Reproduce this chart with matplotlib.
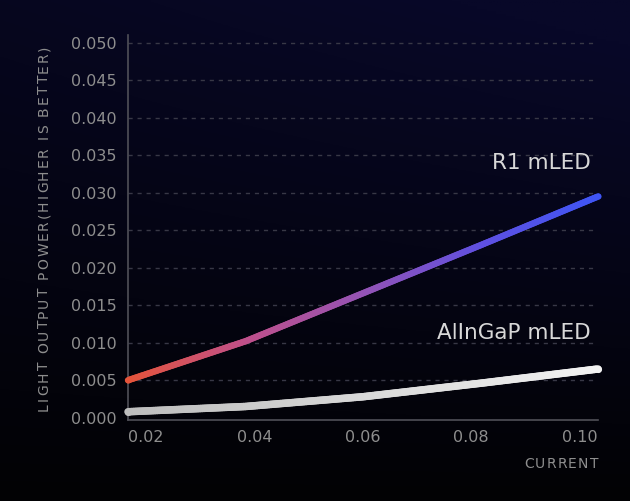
import numpy as np
import matplotlib
matplotlib.use("Agg")
import matplotlib.pyplot as plt
from matplotlib.collections import LineCollection
from matplotlib.colors import LinearSegmentedColormap
from matplotlib.font_manager import FontProperties, findfont
from matplotlib.ft2font import FT2Font, LoadFlags
import matplotlib.transforms as mtransforms

plt.rcParams['font.family'] = ['DejaVu Sans']

# ---- data ----
current = [0.02, 0.04, 0.06, 0.08, 0.10]
r1_mled = [0.0050, 0.0102, 0.0166, 0.0230, 0.0295]
alingap_mled = [0.0008, 0.0015, 0.0028, 0.0046, 0.0065]
x_ticks = [0.02, 0.04, 0.06, 0.08, 0.10]
x_tick_labels = ["0.02", "0.04", "0.06", "0.08", "0.10"]
y_ticks = [0.000, 0.005, 0.010, 0.015, 0.020, 0.025, 0.030, 0.035, 0.040, 0.045, 0.050]
series_names = ["R1 mLED", "AlInGaP mLED"]
x_title = "CURRENT"
y_title = "LIGHT OUTPUT POWER(HIGHER IS BETTER)"

W, H = 630, 501
fig = plt.figure(figsize=(W / 100, H / 100), dpi=100)

# background gradient
bg = fig.add_axes([0, 0, 1, 1])
bg.set_axis_off()
yy, xx = np.mgrid[0:1:200j, 0:1:200j]
t = np.clip(0.75 * (1 - yy) + 0.35 * xx * (1 - yy), 0, 1)  # yy=0 top
top = np.array([8, 8, 40]) / 255
bot = np.array([2, 2, 4]) / 255
img = bot[None, None, :] * (1 - t[..., None]) + top[None, None, :] * t[..., None]
bg.imshow(img, extent=[0, 1, 0, 1], aspect='auto', origin='upper')
bg.set_xlim(0, 1)
bg.set_ylim(0, 1)

ax = fig.add_axes([128 / W, 1 - 420 / H, (598 - 128) / W, (420 - 35) / H])
ax.set_facecolor('none')
ax.set_xlim(0.02, 0.10)
ax.set_ylim(-0.0003, 0.05103)

# grid
for yv in y_ticks[1:]:
    ax.plot([0.02, 0.0992], [yv, yv], color='#383846', lw=1.0, ls=(0, (3, 3.5)), zorder=1)


def gradient_line(xs, ys, cmap, lw, z):
    xs = np.asarray(xs, float)
    ys = np.asarray(ys, float)
    px, py = [], []
    n = 60
    for i in range(len(xs) - 1):
        s = np.linspace(0, 1, n, endpoint=False)
        px.extend(xs[i] + (xs[i + 1] - xs[i]) * s)
        py.extend(ys[i] + (ys[i + 1] - ys[i]) * s)
    px.append(xs[-1]); py.append(ys[-1])
    px = np.array(px); py = np.array(py)
    pts = np.column_stack([px, py]).reshape(-1, 1, 2)
    segs = np.concatenate([pts[:-1], pts[1:]], axis=1)
    vals = (px[:-1] - xs[0]) / (xs[-1] - xs[0])
    lc = LineCollection(segs, cmap=cmap, linewidths=lw, capstyle='round', zorder=z, clip_on=False)
    lc.set_array(vals)
    lc.set_clim(0, 1)
    ax.add_collection(lc)
    ax.plot([px[0]], [py[0]], 'o', ms=lw * 0.95, color=cmap(0.0), zorder=z, mec='none', clip_on=False)
    ax.plot([px[-1]], [py[-1]], 'o', ms=lw * 0.95, color=cmap(1.0), zorder=z, mec='none', clip_on=False)


cmap_r1 = LinearSegmentedColormap.from_list('r1', ['#e5543a', '#c0508a', '#9553b5', '#6050e0', '#3f55f5'])
cmap_al = LinearSegmentedColormap.from_list('al', ['#bdbdbd', '#d8d8d8', '#f2f2f2'])
gradient_line(current, r1_mled, cmap_r1, 4.6, 4)
gradient_line(current, alingap_mled, cmap_al, 5.4, 3)

# series labels (figure pixel positions)
fig.text(591 / W, 1 - 163 / H, series_names[0], ha='right', va='center', color='#d8d8d8', fontsize=15.5)
fig.text(591 / W, 1 - 333 / H, series_names[1], ha='right', va='center', color='#d8d8d8', fontsize=15.5)

# axes styling
for s in ['top', 'right']:
    ax.spines[s].set_visible(False)
for s in ['left', 'bottom']:
    ax.spines[s].set_color('#505058')
    ax.spines[s].set_linewidth(1.2)

ax.set_yticks(y_ticks)
ax.set_yticklabels([f"{v:.3f}" for v in y_ticks])
ax.set_xticks(x_ticks)
ax.set_xticklabels(x_tick_labels)
ax.tick_params(axis='both', length=0, colors='#8e8e8e', labelsize=11.5)
ax.tick_params(axis='y', pad=8)
ax.tick_params(axis='x', pad=7)

labels = ax.get_xticklabels()
labels[0].set_ha('left')
labels[-1].set_ha('right')
labels[1].set_transform(labels[1].get_transform() + mtransforms.ScaledTranslation(9.5 / 100, 0, fig.dpi_scale_trans))
labels[3].set_transform(labels[3].get_transform() + mtransforms.ScaledTranslation(-9.5 / 100, 0, fig.dpi_scale_trans))


def tracked_text(x0, y0, s, size, track, vertical=False, color='#8e8e8e', anchor='start'):
    """Draw letter-spaced text; x0,y0 in figure pixels from top-left."""
    prop = FontProperties(family='DejaVu Sans', size=size)
    font = FT2Font(findfont(prop))
    font.set_size(size, 100)
    advs = []
    for c in s:
        g = font.load_char(ord(c), flags=LoadFlags.NO_HINTING)
        advs.append(g.linearHoriAdvance / 65536.0)
    offs = np.concatenate([[0.0], np.cumsum(np.array(advs) + track)])[:-1]
    total = offs[-1] + advs[-1]
    shift = {'end': -total, 'center': -total / 2}.get(anchor, 0.0)
    cap = 0.729 * size * 100 / 72  # cap height in px
    for c, o in zip(s, offs):
        if c == ' ':
            continue
        d = o + shift
        if vertical:
            fig.text((x0 + cap / 2) / W, 1 - (y0 - d) / H, c, rotation=90, ha='left', va='baseline',
                     fontproperties=prop, color=color, rotation_mode='anchor')
        else:
            fig.text((x0 + d) / W, 1 - (y0 + cap / 2) / H, c, ha='left', va='baseline',
                     fontproperties=prop, color=color)


tracked_text(598, 463, x_title, 10, 1.2, anchor='end')
tracked_text(43, 228, y_title, 10, 1.9, vertical=True, anchor='center')

fig.savefig("out.png", dpi=100, facecolor='black')
